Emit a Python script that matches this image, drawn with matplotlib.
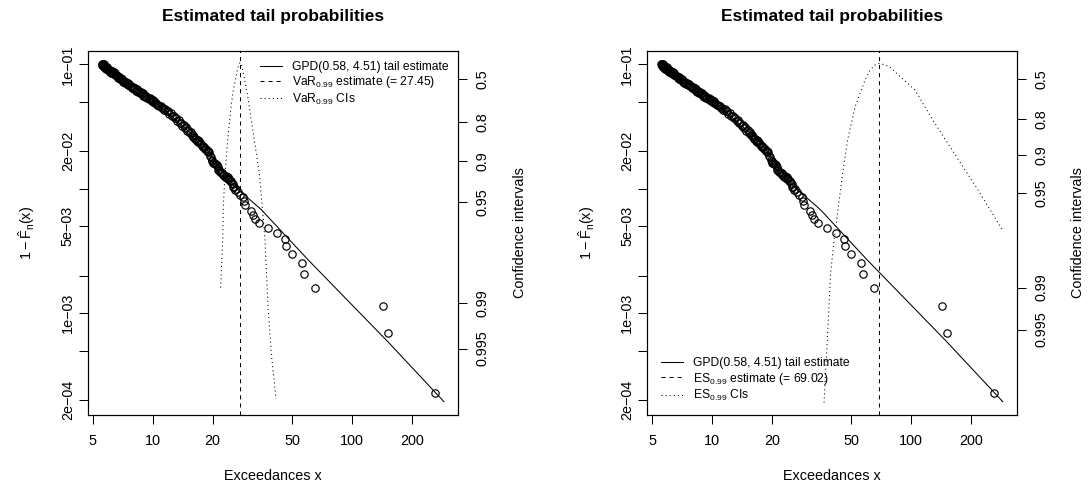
import matplotlib.pyplot as plt
from matplotlib.ticker import NullLocator
from statistics import NormalDist

plt.rcParams['font.family'] = ['Liberation Sans', 'DejaVu Sans']
plt.rcParams['mathtext.fontset'] = 'custom'
plt.rcParams['mathtext.rm'] = 'Liberation Sans'
plt.rcParams['mathtext.it'] = 'Liberation Sans'
plt.rcParams['mathtext.bf'] = 'Liberation Sans:bold'
plt.rcParams['lines.scale_dashes'] = False

exc_x = [5.55, 5.58, 5.62, 5.66, 5.71, 5.76, 5.82, 5.88, 5.95, 6.03,
         6.11, 6.20, 6.29, 6.38, 6.47, 6.60, 6.73, 6.86, 6.99, 7.12,
         7.26, 7.40, 7.54, 7.72, 7.90, 8.08, 8.27, 8.45, 8.64, 8.81,
         8.98, 9.15, 9.35, 9.55, 9.75, 9.90, 10.07, 10.30, 10.55, 10.80,
         11.10, 11.40, 11.76, 12.10, 12.50, 12.94, 13.30, 13.71, 14.10, 14.53,
         14.90, 15.30, 15.70, 16.00, 16.31, 16.65, 16.94, 17.28, 17.62, 17.94,
         18.30, 18.66, 19.01, 19.40, 19.77, 20.14, 20.50, 20.95, 21.34, 21.77,
         22.19, 22.60, 23.06, 23.51, 23.96, 24.40, 24.92, 25.38, 25.88, 26.89,
         27.42, 28.49, 28.72, 29.06, 31.02, 31.97, 32.49, 34.15, 38.03, 41.91,
         46.29, 46.66, 49.83, 55.95, 57.26, 65.23, 143.6, 151.6, 261.0,
         5.60, 5.68, 5.74, 5.84, 5.92, 6.00, 6.08, 6.16, 6.26, 6.36,
         6.46, 6.56, 6.68, 6.80, 6.92, 7.05, 7.18, 7.32, 7.48, 7.64,
         7.82, 8.00, 8.18, 8.36, 8.55, 8.72, 8.90, 9.08, 9.26, 9.65,
         9.83, 10.00, 10.20, 10.42, 10.68, 10.95, 11.25, 11.58, 11.93, 12.30,
         12.72, 13.12, 13.50, 13.90, 14.32, 14.72, 15.10, 15.50, 15.85, 16.15,
         16.48, 16.80, 17.10, 17.45, 17.78, 18.12, 18.48, 18.84, 19.20, 19.58,
         19.95, 20.32, 20.72, 21.15, 21.55, 21.98, 22.40, 22.83, 23.28, 23.74,
         24.18, 24.66, 25.15, 25.63, 26.30]
exc_p = [0.1000, 0.0990, 0.0978, 0.0966, 0.0952, 0.0938, 0.0925, 0.0912, 0.0899, 0.0886,
         0.0872, 0.0858, 0.0845, 0.0832, 0.0820, 0.0800, 0.0780, 0.0762, 0.0743, 0.0725,
         0.0711, 0.0696, 0.0682, 0.0665, 0.0648, 0.0632, 0.0616, 0.0600, 0.0585, 0.0573,
         0.0561, 0.0549, 0.0538, 0.0526, 0.0515, 0.0508, 0.0501, 0.0488, 0.0474, 0.0459,
         0.0443, 0.0430, 0.0418, 0.0402, 0.0386, 0.0368, 0.0352, 0.0336, 0.0321, 0.0306,
         0.0294, 0.0282, 0.0270, 0.0260, 0.0250, 0.0241, 0.0237, 0.0232, 0.0222, 0.0215,
         0.0208, 0.0203, 0.0199, 0.0185, 0.0170, 0.0160, 0.0157, 0.0155, 0.0142, 0.0137,
         0.0133, 0.0129, 0.0125, 0.0123, 0.0121, 0.0116, 0.0111, 0.0104, 0.0098, 0.0095,
         0.0090, 0.00864, 0.00802, 0.00741, 0.00667, 0.00619, 0.00569, 0.00528, 0.00484, 0.00439,
         0.00393, 0.00347, 0.00300, 0.00254, 0.00207, 0.00161, 0.00115, 0.000691, 0.000230,
         0.1010, 0.0998, 0.0975, 0.0960, 0.0948, 0.0918, 0.0908, 0.0890, 0.0876, 0.0864,
         0.0848, 0.0828, 0.0808, 0.0790, 0.0774, 0.0756, 0.0740, 0.0722, 0.0709, 0.0692,
         0.0676, 0.0658, 0.0644, 0.0628, 0.0613, 0.0598, 0.0584, 0.0571, 0.0559, 0.0536,
         0.0525, 0.0517, 0.0503, 0.0490, 0.0475, 0.0461, 0.0447, 0.0434, 0.0420, 0.0404,
         0.0387, 0.0372, 0.0356, 0.0340, 0.0326, 0.0311, 0.0298, 0.0284, 0.0272, 0.0260,
         0.0250, 0.0245, 0.0241, 0.0231, 0.0222, 0.0216, 0.0209, 0.0203, 0.0196, 0.0180,
         0.0167, 0.0160, 0.0158, 0.0150, 0.0142, 0.0137, 0.0133, 0.0129, 0.0126, 0.0124,
         0.0121, 0.0115, 0.0109, 0.0103, 0.0099]

# fitted GPD tail
gpd_x = [5.55, 10.07, 17.28, 25.38, 34.95, 60.37, 151.6, 289.5]
gpd_p = [0.1, 0.0512, 0.0242, 0.0107, 0.00684, 0.00268, 0.00059, 0.000195]
xi, beta = 0.58, 4.51

var_est = 27.45
es_est = 69.02

# profile likelihood curves, in chi-square deviance units
var_ci_x = [21.94, 22.20, 22.46, 22.61, 23.06, 23.79, 24.72, 25.38, 26.40, 26.95, 27.45,
            27.95, 28.49, 29.63, 30.53, 32.34, 34.26, 35.48, 36.60, 37.90, 39.50, 41.60]
var_ci_dev = [6.20, 5.50, 4.89, 3.97, 3.05, 2.13, 1.22, 0.76, 0.30, 0.07, 0.0,
              0.07, 0.30, 0.76, 1.22, 2.13, 3.05, 3.97, 4.89, 6.73, 8.10, 9.27]
es_ci_x = [36.6, 38.0, 39.5, 41.1, 43.2, 45.4, 48.1, 52.4, 58.8, 62.0, 65.5, 69.02,
           73.5, 78.5, 84.8, 104.7, 131.9, 169.5, 217.6, 290.5]
es_ci_dev = [10.04, 8.19, 6.21, 5.23, 4.24, 3.25, 2.26, 1.28, 0.49, 0.22, 0.05, 0.0,
             0.03, 0.11, 0.29, 0.78, 1.77, 2.76, 3.75, 4.96]

conf_levels = [0.5, 0.8, 0.9, 0.95, 0.99, 0.995]
x_ticks = [5, 10, 20, 50, 100, 200]
y_ticks = [1e-1, 5e-2, 2e-2, 1e-2, 5e-3, 2e-3, 1e-3, 5e-4, 2e-4]
y_labels = ['1e\u221201', '', '2e\u221202', '', '5e\u221203', '', '1e\u221203', '', '2e\u221204']

fs = 10.4
dashed = (0, (2.9, 2.9))
dotted = (0, (0.75, 2.2))


def panel(ax, rm, est, ci_x, ci_dev, dev_lim, leg_loc, leg_anchor):
    ax.plot(exc_x, exc_p, 'o', mfc='none', mec='black', ms=5.3, mew=0.85)
    l1, = ax.plot(gpd_x, gpd_p, color='black', lw=0.75)
    l2 = ax.axvline(est, color='black', lw=0.75, ls=dashed)
    ax.set_xscale('log')
    ax.set_yscale('log')
    ax.set_xlim(4.736, 340.4)
    ax.set_ylim(1.524e-4, 0.128)
    ax.xaxis.set_minor_locator(NullLocator())
    ax.yaxis.set_minor_locator(NullLocator())
    ax.set_xticks(x_ticks, [str(v) for v in x_ticks])
    ax.set_yticks(y_ticks, y_labels, rotation=90, va='center')
    ax.tick_params(axis='x', length=6.5, width=0.75, pad=7, labelsize=fs)
    ax.tick_params(axis='y', length=6.5, width=0.75, pad=3, labelsize=fs)
    for s in ax.spines.values():
        s.set_linewidth(0.8)
    ax.set_xlabel('Exceedances x', fontsize=fs, va='center')
    ax.xaxis.set_label_coords(0.5, -0.1676)
    ax.set_ylabel(r'$1-\hat{\mathrm{F}}_{\mathrm{n}}(\mathrm{x})$', fontsize=fs, va='center')
    ax.yaxis.set_label_coords(-0.165, 0.5)
    ax.set_title('Estimated tail probabilities', fontsize=12.5, fontweight='bold',
                 y=1.0934, va='center', pad=0)

    tw = ax.twinx()
    l3, = tw.plot(ci_x, ci_dev, color='black', lw=0.75, ls=dotted)
    tw.set_ylim(*dev_lim)
    q = [NormalDist().inv_cdf((1 + p) / 2) ** 2 for p in conf_levels]
    tw.set_yticks(q, [str(p) for p in conf_levels], rotation=90, va='center')
    tw.yaxis.set_minor_locator(NullLocator())
    tw.tick_params(axis='y', length=6.5, width=0.75, pad=6.4, labelsize=fs)
    for s in tw.spines.values():
        s.set_linewidth(0.8)
    tw.set_ylabel('Confidence intervals', fontsize=fs, rotation=90, va='center')
    tw.yaxis.set_label_coords(1.167, 0.5)

    labels = ['GPD(%.2f, %.2f) tail estimate' % (xi, beta),
              rm + r'$_{0.99}$ estimate (= %.2f)' % est,
              rm + r'$_{0.99}$ CIs']
    tw.legend([l1, l2, l3], labels, loc=leg_loc, bbox_to_anchor=leg_anchor,
              frameon=False, fontsize=8.7, handlelength=1.85, handletextpad=0.8,
              labelspacing=0.1, borderpad=0, borderaxespad=0)


fig = plt.figure(figsize=(10.92, 4.87), dpi=100)
ax1 = fig.add_axes([0.0806, 0.1478, 0.3388, 0.7475])
ax2 = fig.add_axes([0.5928, 0.1478, 0.3383, 0.7475])

panel(ax1, 'VaR', var_est, var_ci_x, var_ci_dev, (9.71, -0.317),
      'upper left', (0.465, 0.9725))
panel(ax2, 'ES', es_est, es_ci_x, es_ci_dev, (10.41, -0.373),
      'lower left', (0.0363, 0.033))

fig.savefig('out.png', dpi=100)
